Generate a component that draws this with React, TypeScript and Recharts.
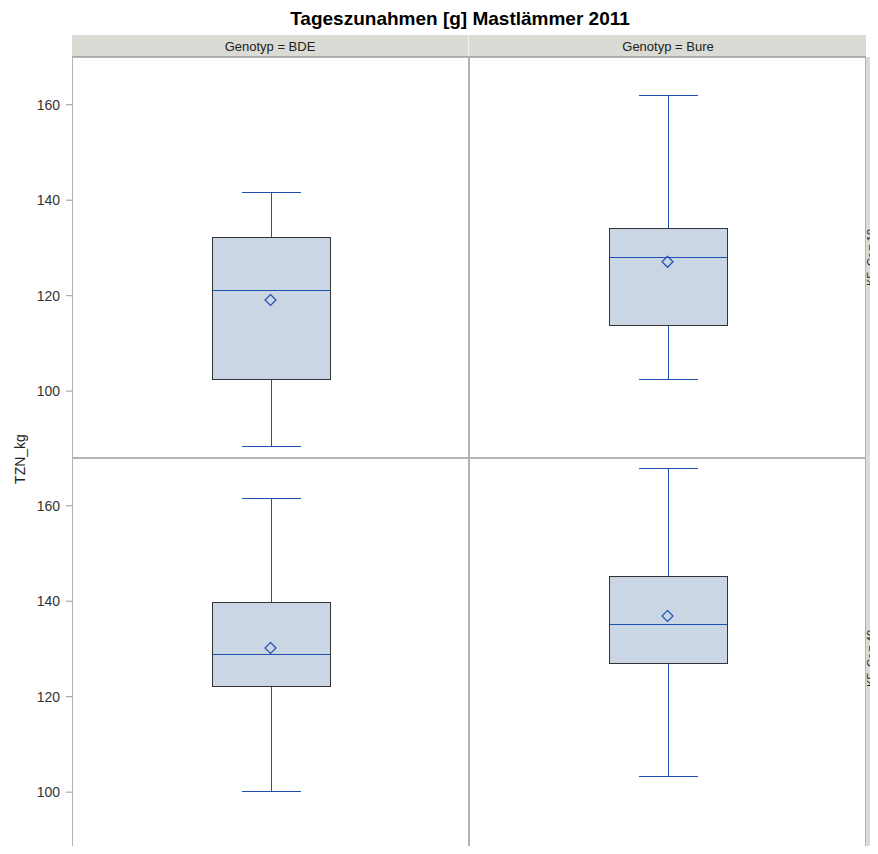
import React from "react";
import { ComposedChart, Bar, Scatter, XAxis, YAxis } from "recharts";

const FONT = "Arial, 'Liberation Sans', sans-serif";

const title = "Tageszunahmen [g] Mastlämmer 2011";
const yLabel = "TZN_kg";
const genotypes = ["BDE", "Bure"];
const kfLevels = ["10", "40"];
const yTicks = [100, 120, 140, 160];
const yDomain = [86, 170];

// KF_Gr = 10 row (BDE, Bure)
const low10 = [88.5, 102.5];
const q1_10 = [102.6, 113.9];
const median10 = [121.2, 128.1];
const q3_10 = [132.3, 134.2];
const high10 = [141.8, 162.1];
const mean10 = [119.1, 127.1];

// KF_Gr = 40 row (BDE, Bure)
const low40 = [100.2, 103.4];
const q1_40 = [122.3, 127.0];
const median40 = [129.0, 135.3];
const q3_40 = [139.9, 145.3];
const high40 = [161.7, 167.9];
const mean40 = [130.2, 136.9];

const rows = [
  { low: low10, q1: q1_10, median: median10, q3: q3_10, high: high10, mean: mean10 },
  { low: low40, q1: q1_40, median: median40, q3: q3_40, high: high40, mean: mean40 },
];

const BLUE = "#1f4fb0";
const BOX_FILL = "#cbd6e5";
const STRIP = "#d9dbd4";
const FRAME = "#b3b3b3";

const px = (v: number) => Math.round(v) + 0.5;

function BoxShape(props: any) {
  const { x, y, width, height, payload } = props;
  const [lo, hi] = payload.range;
  const top = Math.min(y, y + height);
  const h = Math.abs(height);
  const k = h / (hi - lo);
  const py = (v: number) => px(top + (hi - v) * k);
  const cx = px(x + width / 2);
  const capHalf = width / 4;
  const bx = px(x);
  const bw = Math.round(width);
  return (
    <g>
      <line x1={cx} x2={cx} y1={py(hi)} y2={py(payload.q3)} stroke={BLUE} strokeWidth={1} />
      <line x1={cx} x2={cx} y1={py(payload.q1)} y2={py(lo)} stroke={BLUE} strokeWidth={1} />
      <line x1={cx - capHalf} x2={cx + capHalf} y1={py(hi)} y2={py(hi)} stroke={BLUE} strokeWidth={1} />
      <line x1={cx - capHalf} x2={cx + capHalf} y1={py(lo)} y2={py(lo)} stroke={BLUE} strokeWidth={1} />
      <rect
        x={bx}
        y={py(payload.q3)}
        width={bw}
        height={py(payload.q1) - py(payload.q3)}
        fill={BOX_FILL}
        stroke="#333"
        strokeWidth={1}
      />
      <line x1={bx} x2={bx + bw} y1={py(payload.median)} y2={py(payload.median)} stroke={BLUE} strokeWidth={1} />
    </g>
  );
}

function Diamond(props: any) {
  const { cx, cy } = props;
  const r = 5.5;
  return (
    <path
      d={`M${cx},${cy - r} L${cx + r},${cy} L${cx},${cy + r} L${cx - r},${cy} Z`}
      fill="none"
      stroke={BLUE}
      strokeWidth={1.2}
    />
  );
}

function Panel({ row, col, left, top, width, showY }: any) {
  const r = rows[row];
  const data = [
    {
      genotyp: genotypes[col],
      range: [r.low[col], r.high[col]],
      q1: r.q1[col],
      median: r.median[col],
      q3: r.q3[col],
      mean: r.mean[col],
    },
  ];
  return (
    <div style={{ position: "absolute", left, top }}>
      <ComposedChart width={width} height={401} data={data} margin={{ top: 0, right: 0, bottom: 0, left: 0 }}>
        <XAxis dataKey="genotyp" type="category" hide />
        <YAxis
          domain={yDomain}
          ticks={yTicks}
          allowDataOverflow
          hide={!showY}
          width={72}
          axisLine={false}
          tickSize={6}
          tickMargin={6}
          tickLine={{ stroke: "#999" }}
          tick={{ fill: "#333", fontSize: 14, fontFamily: FONT }}
        />
        <Bar dataKey="range" barSize={118} shape={BoxShape} isAnimationActive={false} />
        <Scatter dataKey="mean" shape={Diamond} isAnimationActive={false} />
      </ComposedChart>
    </div>
  );
}

export default function App() {
  return (
    <div
      style={{
        position: "relative",
        width: 878,
        height: 854,
        margin: -8,
        overflow: "hidden",
        background: "#fff",
        fontFamily: FONT,
      }}
    >
      <Panel row={0} col={0} left={0} top={57} width={469} showY />
      <Panel row={0} col={1} left={469} top={57} width={397} showY={false} />
      <Panel row={1} col={0} left={0} top={458} width={469} showY />
      <Panel row={1} col={1} left={469} top={458} width={397} showY={false} />
      <svg
        width={878}
        height={854}
        style={{ position: "absolute", left: 0, top: 0, pointerEvents: "none" }}
      >
        <text x={460} y={25} textAnchor="middle" fontSize={19} fontWeight="bold" fontFamily={FONT} fill="#000">
          {title}
        </text>
        <rect x={72} y={35} width={794} height={22} fill={STRIP} />
        <line x1={72} x2={866} y1={56.5} y2={56.5} stroke="#a8aaa4" />
        <line x1={468.5} x2={468.5} y1={35} y2={56} stroke="#eeeeea" />
        {genotypes.map((g, i) => (
          <text
            key={g}
            x={i === 0 ? 270 : 668}
            y={50.5}
            textAnchor="middle"
            fontSize={13}
            fontFamily={FONT}
            fill="#222"
          >
            {`Genotyp = ${g}`}
          </text>
        ))}
        <rect x={866} y={57} width={20} height={802} fill={STRIP} />
        <line x1={866} x2={878} y1={458} y2={458} stroke="#eeeeea" />
        {kfLevels.map((k, i) => {
          const cy = i === 0 ? 257.5 : 658.5;
          return (
            <text
              key={k}
              x={875}
              y={cy}
              transform={`rotate(-90, 875, ${cy})`}
              textAnchor="middle"
              fontSize={11}
              fontFamily={FONT}
              fill="#222"
            >
              {`KF_Gr = ${k}`}
            </text>
          );
        })}
        <rect x={72.5} y={57.5} width={396} height={400} fill="none" stroke={FRAME} />
        <rect x={469.5} y={57.5} width={396} height={400} fill="none" stroke={FRAME} />
        <rect x={72.5} y={458.5} width={396} height={401} fill="none" stroke={FRAME} />
        <rect x={469.5} y={458.5} width={396} height={401} fill="none" stroke={FRAME} />
        <text
          x={25}
          y={459}
          transform="rotate(-90, 25, 459)"
          textAnchor="middle"
          fontSize={14}
          fontFamily={FONT}
          fill="#222"
        >
          {yLabel}
        </text>
      </svg>
    </div>
  );
}
